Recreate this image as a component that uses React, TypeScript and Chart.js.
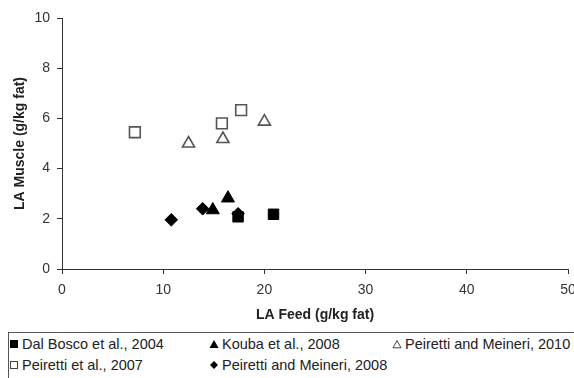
import React, { useEffect, useRef } from "react";
import { Chart, registerables } from "chart.js";

Chart.register(...registerables);

// ---- data ----
const seriesLabels = [
  "Dal Bosco et al., 2004",
  "Kouba et al., 2008",
  "Peiretti and Meineri, 2010",
  "Peiretti et al., 2007",
  "Peiretti and Meineri, 2008",
];
const dalBoscoX = [17.4, 20.9];
const dalBoscoY = [2.08, 2.18];
const koubaX = [14.9, 16.4];
const koubaY = [2.35, 2.82];
const meineri2010X = [12.5, 15.9, 20.0];
const meineri2010Y = [5.0, 5.18, 5.87];
const peiretti2007X = [7.2, 15.8, 17.7];
const peiretti2007Y = [5.45, 5.8, 6.33];
const meineri2008X = [10.8, 13.9, 17.4];
const meineri2008Y = [1.96, 2.4, 2.2];

const xTickValues = [0, 10, 20, 30, 40, 50];
const yTickValues = [0, 2, 4, 6, 8, 10];
const xTitle = "LA Feed (g/kg fat)";
const yTitle = "LA Muscle (g/kg fat)";

// ---- styles ----
const FONT = "'Liberation Sans', Arial, sans-serif";
type Sty = { style: string; fill: string; stroke: string; r: number; bw: number };
const styles: Sty[] = [
  { style: "rect", fill: "#000", stroke: "#000", r: 7.4, bw: 1 },
  { style: "triangle", fill: "#000", stroke: "#000", r: 7.5, bw: 1 },
  { style: "triangle", fill: "#fff", stroke: "#555", r: 7, bw: 1.6 },
  { style: "rect", fill: "#fff", stroke: "#555", r: 7.6, bw: 1.6 },
  { style: "rectRot", fill: "#000", stroke: "#000", r: 6.3, bw: 1 },
];

const xs = [dalBoscoX, koubaX, meineri2010X, peiretti2007X, meineri2008X];
const ys = [dalBoscoY, koubaY, meineri2010Y, peiretti2007Y, meineri2008Y];

// legend grid placement (col, row)
const legendPos = [
  [0, 0],
  [1, 0],
  [2, 0],
  [0, 1],
  [1, 1],
];
const colX = [14, 214, 397];
const rowY = [344, 365];

function Marker({ kind }: { kind: number }) {
  const s = styles[kind];
  const w = 10;
  let shape: React.ReactNode = null;
  if (s.style === "rect") {
    shape = s.fill === "#000"
      ? <rect x={1} y={1} width={8} height={8} fill="#000" />
      : <rect x={1.5} y={1.5} width={7} height={7} fill="#fff" stroke="#444" strokeWidth={1} />;
  } else if (s.style === "triangle") {
    shape = s.fill === "#000"
      ? <polygon points="5,1 9.5,9 0.5,9" fill="#000" />
      : <polygon points="5,1.5 9,8.8 1,8.8" fill="#fff" stroke="#444" strokeWidth={1} />;
  } else {
    shape = <polygon points="5,1 9,5 5,9 1,5" fill="#000" />;
  }
  return (
    <svg width={w} height={w} style={{ display: "block" }}>
      {shape}
    </svg>
  );
}

export default function App() {
  const ref = useRef<HTMLCanvasElement | null>(null);

  useEffect(() => {
    if (!ref.current) return;
    const datasets = seriesLabels.map((label, i) => ({
      label,
      data: xs[i].map((x, j) => ({ x, y: ys[i][j] })),
      pointStyle: styles[i].style as any,
      pointRadius: styles[i].r,
      pointHoverRadius: styles[i].r,
      pointBackgroundColor: styles[i].fill,
      pointBorderColor: styles[i].stroke,
      pointBorderWidth: styles[i].bw,
      showLine: false,
    }));
    const chart = new Chart(ref.current, {
      type: "scatter",
      data: { datasets },
      options: {
        animation: false,
        responsive: false,
        maintainAspectRatio: false,
        layout: { padding: { top: 18, right: 18, left: 0, bottom: 0 } },
        plugins: { legend: { display: false }, tooltip: { enabled: false } },
        scales: {
          x: {
            type: "linear",
            min: 0,
            max: 50,
            afterBuildTicks: (s: any) => {
              s.ticks = xTickValues.map((v) => ({ value: v }));
            },
            ticks: {
              color: "#333",
              font: { family: FONT, size: 14 },
              padding: 8,
              maxRotation: 0,
              autoSkip: false,
            },
            grid: { display: true, drawOnChartArea: false, drawTicks: true, tickLength: 5, color: "#333" },
            border: { display: true, color: "#333", width: 1 },
            title: {
              display: true,
              text: xTitle,
              color: "#222",
              font: { family: FONT, size: 14, weight: "bold" },
              padding: { top: 2, bottom: 6 },
            },
            afterFit: (s: any) => {
              s.height = 61;
            },
          },
          y: {
            type: "linear",
            min: 0,
            max: 10,
            afterBuildTicks: (s: any) => {
              s.ticks = yTickValues.map((v) => ({ value: v }));
            },
            ticks: {
              color: "#333",
              font: { family: FONT, size: 14 },
              padding: 7,
              autoSkip: false,
            },
            grid: { display: true, drawOnChartArea: false, drawTicks: true, tickLength: 5, color: "#333" },
            border: { display: true, color: "#333", width: 1 },
            title: {
              display: true,
              text: yTitle,
              color: "#222",
              font: { family: FONT, size: 14, weight: "bold" },
              padding: { top: 12, bottom: 2 },
            },
            afterFit: (s: any) => {
              s.width = 62;
            },
          },
        },
      },
    });
    return () => chart.destroy();
  }, []);

  return (
    <div
      style={{
        position: "absolute",
        left: 0,
        top: 0,
        width: 574,
        height: 378,
        overflow: "hidden",
        background: "#fff",
      }}
    >
      <canvas ref={ref} width={586} height={330} style={{ position: "absolute", left: 0, top: 0 }} />
      <div
        style={{
          position: "absolute",
          left: 8,
          top: 332,
          width: 580,
          height: 60,
          border: "1px solid #555",
          boxSizing: "border-box",
        }}
      />
      {seriesLabels.map((label, i) => {
        const [c, r] = legendPos[i];
        return (
          <div
            key={label}
            style={{
              position: "absolute",
              left: colX[c] - 5,
              top: rowY[r] - 9,
              height: 18,
              display: "flex",
              alignItems: "center",
              fontFamily: FONT,
              fontSize: 14.5,
              color: "#222",
              whiteSpace: "nowrap",
            }}
          >
            <Marker kind={i} />
            <span style={{ marginLeft: 3 }}>{label}</span>
          </div>
        );
      })}
    </div>
  );
}
